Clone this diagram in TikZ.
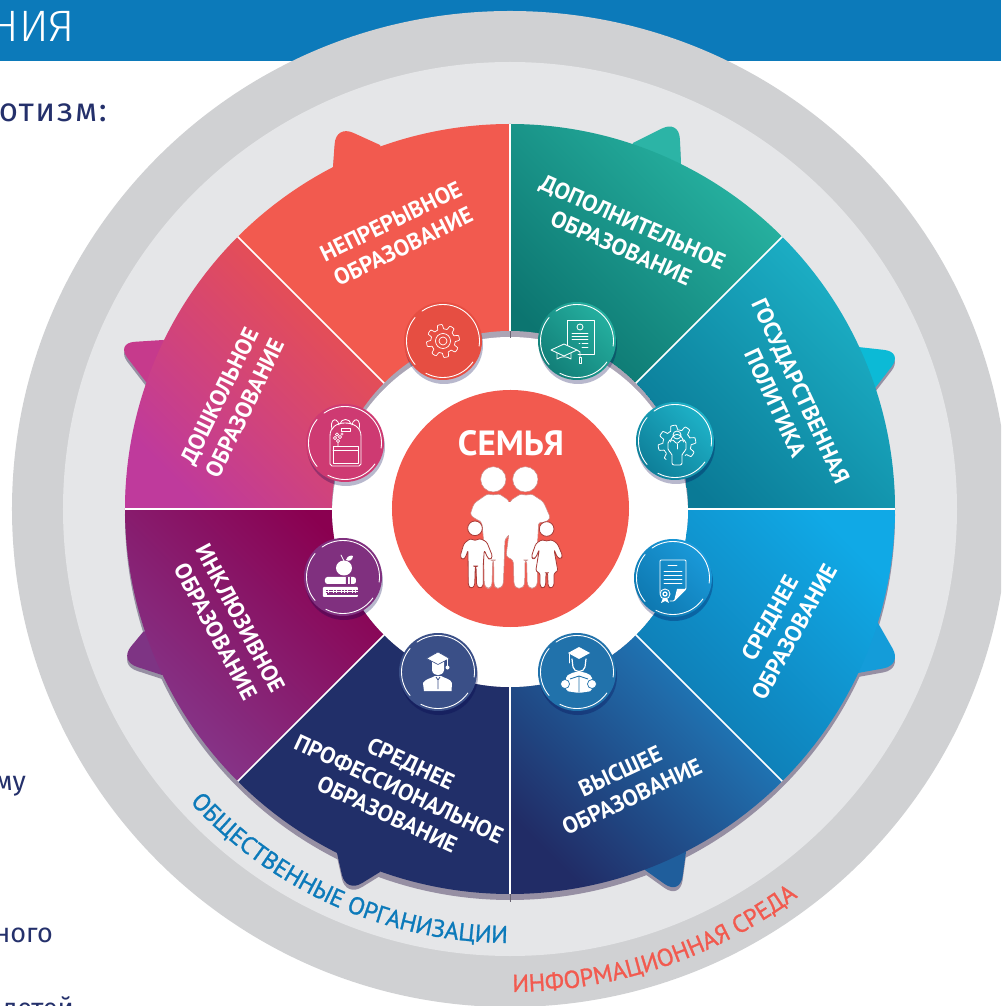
\documentclass[tikz,border=0pt]{standalone}
\usepackage{fontspec}
\usetikzlibrary{decorations.text,calc}
\newfontfamily\ptf{PT Sans}
\newfontfamily\ptm[FakeBold=1.1]{PT Sans}
\newfontfamily\firaf{Fira Sans Light}
\newfontfamily\firar{Fira Sans}
\newfontfamily\firas[LetterSpace=5]{Fira Sans}
\definecolor{coral}{HTML}{F25A4F}
\definecolor{navy}{HTML}{212F69}
\definecolor{bar}{HTML}{0C7ABA}
\definecolor{ringd}{HTML}{D0D1D3}
\definecolor{ringl}{HTML}{E5E6E8}
\definecolor{rimsh}{HTML}{968FA3}
\definecolor{inktext}{HTML}{24306B}
\definecolor{kidedge}{HTML}{A83A36}
\definecolor{cgear}{HTML}{E64E42}
\definecolor{cdip}{HTML}{1B9A8D}
\definecolor{cstu}{HTML}{2172AB}
\definecolor{cgrad}{HTML}{3A4F87}
\definecolor{cbook}{HTML}{80307F}
\definecolor{cbag}{HTML}{CE3A72}
\definecolor{cdoc}{HTML}{1689C4}
\definecolor{dipa}{HTML}{25B0A0}
\definecolor{dipb}{HTML}{127F78}
\definecolor{gova}{HTML}{1EB2C8}
\definecolor{govb}{HTML}{0E7F99}
\definecolor{doca}{HTML}{1A9ADA}
\definecolor{docb}{HTML}{0E78B0}
\definecolor{lobb}{HTML}{2CB4A6}
\definecolor{lobc}{HTML}{0CBAD6}
\definecolor{lobd}{HTML}{149CD9}
\definecolor{lobe5}{HTML}{1F5E9C}
\definecolor{lobg}{HTML}{C63A8C}
\definecolor{lobh}{HTML}{7E3484}
\definecolor{segaa}{HTML}{28B5A3}
\definecolor{segab}{HTML}{0C7570}
\definecolor{segba}{HTML}{1DB2C8}
\definecolor{segbb}{HTML}{0A7A96}
\definecolor{segca}{HTML}{10A9E6}
\definecolor{segcb}{HTML}{0F78AF}
\definecolor{segda}{HTML}{1F82C2}
\definecolor{segdb}{HTML}{212C66}
\definecolor{segea}{HTML}{8A0050}
\definecolor{segeb}{HTML}{85388C}
\definecolor{segfa}{HTML}{EC5248}
\definecolor{segfb}{HTML}{BF3A9C}
\newcommand\seg[3]{\shade[#3] (#1:177) -- (#1:385) arc[start angle=#1,end angle=#2,radius=385] -- (#2:177) arc[start angle=#2,end angle=#1,radius=177] -- cycle;}
\newcommand\lobeshape[3]{(#1) -- ($(#2)!19pt!(#1)$) .. controls ($(#2)!8pt!(#1)$) and ($(#2)!8pt!(#3)$) .. ($(#2)!19pt!(#3)$) -- (#3) -- (510,509) -- cycle}
\newcommand\lobe[4]{%
  \fill[rimsh,yshift=-4pt] \lobeshape{#1}{#2}{#3};
  \fill[#4] \lobeshape{#1}{#2}{#3};}
\newcommand\badge[4]{%
  \fill[black!70!blue,opacity=.28] (#1+1,#2+4) circle (39);
  \shade[top color=#3,bottom color=#4,shading angle=-45] (#1,#2) circle (39);
  \begin{scope}[shift={(#1,#2)},y=1pt]
  \draw[white,line width=.9pt,line cap=round]
     (125:36.5) arc[start angle=125,end angle=-8,radius=36.5]
     (-35:36.5) arc[start angle=-35,end angle=-118,radius=36.5]
     (-140:36.5) arc[start angle=-140,end angle=-220,radius=36.5];
  \end{scope}}
\tikzset{
  ic/.style={draw=white,line width=.85pt,line join=round,line cap=round},
  lab/.style={text=white,font=\ptf\bfseries\fontsize{23}{28}\selectfont,align=center,inner sep=0pt},
  kid/.style={fill=white,draw=kidedge,line width=.8pt,rounded corners=2.5pt,line join=round},
  adult/.style={fill=white,draw=kidedge!60,line width=.5pt,rounded corners=3pt,line join=round},
  side/.style={text=inktext,inner sep=0pt,font=\firar\fontsize{27}{27}\selectfont}
}
\begin{document}
\begin{tikzpicture}[x=1pt,y=1pt]
\useasboundingbox (-510,-497) rectangle (491,509);
\clip (-510,-497) rectangle (491,509);
\fill[white] (-510,-497) rectangle (491,509);
% header and page text
\begin{scope}[shift={(-510,509)},y=-1pt]
  \fill[bar] (0,0) rectangle (1001,61);
  \node[anchor=base east,text=white,inner sep=0pt,font=\firaf\fontsize{44}{44}\selectfont] (head) at (75,42) {НИЯ};
  \node[side,anchor=base east,font=\firas\fontsize{33}{33}\selectfont] (t1) at (107,122) {отизм:};
  \node[side,anchor=base east] (t2) at (26,790) {му};
  \node[side,anchor=base east] (t3) at (53,942) {ного};
  \node[side,anchor=base east] (t4) at (74,1017) {детей};
\end{scope}
% rings
\fill[ringd] (0,0) circle (498);
\fill[ringl] (0,0) circle (447);
% wheel shadow
\fill[rimsh] (0,-6) circle (385);
\draw[rimsh!70!black,line width=1pt] (0,-385) -- (0,-393);
% lobes
\begin{scope}[shift={(-510,509)},y=-1pt]
  \lobe{333,167}{336,125}{380,145}{coral}
  \lobe{633,143}{679,120}{681,163}{lobb}
  \lobe{858,347}{903,352}{872,392}{lobc}
  \lobe{878,623}{902,665}{858,673}{lobd}
  \lobe{686,852}{680,895}{645,870}{lobe5}
  \lobe{337,853}{346,893}{380,872}{navy}
  \lobe{146,382}{116,343}{163,340}{lobg}
  \lobe{143,632}{119,661}{162,675}{lobh}
\end{scope}
% wedges
\seg{90}{135}{top color=coral,bottom color=coral}
\seg{225}{270}{top color=navy,bottom color=navy}
\seg{45}{90}{top color=segaa,bottom color=segab,shading angle=-45}
\seg{0}{45}{top color=segba,bottom color=segbb,shading angle=-45}
\seg{-45}{0}{top color=segca,bottom color=segcb,shading angle=-45}
\seg{-90}{-45}{top color=segda,bottom color=segdb,shading angle=-45}
\seg{180}{225}{top color=segea,bottom color=segeb,shading angle=-45}
\seg{135}{180}{top color=segfa,bottom color=segfb,shading angle=-45}
\foreach \a in {0,45,135,180,225,315} \draw[white,line width=1.6pt] (\a:177) -- (\a:385);
\foreach \a in {90,270} \draw[white,line width=2.6pt] (\a:177) -- (\a:385);
% hole
\begin{scope}
  \clip (0,0) circle (178);
  \fill[rimsh!80] (0,0) circle (178);
  \fill[white] (0,-6) circle (178);
  \draw[rimsh!70!black,line width=1pt] (0,178) -- (0,171);
\end{scope}
% centre
\fill[coral] (0.5,0.5) circle (118.5);
\begin{scope}[shift={(-510,509)},y=-1pt]
  \node[font=\ptf\bfseries\fontsize{35}{35}\selectfont,text=white,inner sep=0pt] (fam) at (511,443) {СЕМЬЯ};
  % labels
  \node[lab,rotate=26] (l1) at (397,234) {НЕПРЕРЫВНОЕ\\ОБРАЗОВАНИЕ};
  \node[lab,rotate=-24] (l2) at (627,235) {ДОПОЛНИТЕЛЬНОЕ\\ОБРАЗОВАНИЕ};
  \node[lab,rotate=-65] (l3) at (788,397) {ГОСУДАРСТВЕННАЯ\\ПОЛИТИКА};
  \node[lab,rotate=61] (l4) at (782,625) {СРЕДНЕЕ\\ОБРАЗОВАНИЕ};
  \node[lab,rotate=25] (l5) at (626,784) {ВЫСШЕЕ\\ОБРАЗОВАНИЕ};
  \node[lab,rotate=-25] (l6) at (399,789) {СРЕДНЕЕ\\ПРОФЕССИОНАЛЬНОЕ\\ОБРАЗОВАНИЕ};
  \node[lab,rotate=-62] (l7) at (228,625) {ИНКЛЮЗИВНОЕ\\ОБРАЗОВАНИЕ};
  \node[lab,rotate=64] (l8) at (232,402) {ДОШКОЛЬНОЕ\\ОБРАЗОВАНИЕ};
  % family, in 3x crop coordinates
  \begin{scope}[shift={(450,460)},x=.3333pt,y=-.3333pt]
    \fill[white,draw=kidedge!60,line width=.5pt] (130,58) circle (38);
    \fill[white,draw=kidedge!60,line width=.5pt] (226,58) circle (38);
    \path[adult] (115,100) -- (130,107) -- (145,100) -- (178,122) -- (178,228) -- (165,235) -- (160,375) -- (150,385) -- (137,385) -- (132,375) -- (131,300) -- (128,300) -- (126,375) -- (120,385) -- (110,385) -- (103,375) -- (100,230) -- (95,185) -- (82,180) -- (60,165) -- (72,130) -- cycle;
    \path[adult] (180,122) -- (215,100) -- (228,108) -- (242,100) -- (280,125) -- (302,175) -- (280,190) -- (266,185) -- (262,260) -- (268,295) -- (262,300) -- (262,375) -- (252,385) -- (240,385) -- (232,375) -- (230,300) -- (225,300) -- (224,375) -- (215,385) -- (200,385) -- (192,375) -- (190,300) -- (168,290) -- (176,228) -- cycle;
    \fill[white] (170,125) rectangle (190,225);
    \path[kid] (62,235) -- (75,243) -- (88,235) -- (110,245) -- (128,290) -- (120,300) -- (112,292) -- (103,270) -- (100,310) -- (100,378) -- (90,386) -- (80,378) -- (78,318) -- (76,318) -- (74,378) -- (64,386) -- (55,378) -- (54,270) -- (47,292) -- (38,300) -- (30,290) -- (42,250) -- cycle;
    \path[kid] (278,238) -- (290,245) -- (302,238) -- (322,250) -- (338,288) -- (332,298) -- (322,292) -- (312,268) -- (324,335) -- (312,338) -- (312,378) -- (302,386) -- (294,378) -- (293,338) -- (288,338) -- (287,378) -- (278,386) -- (270,378) -- (270,338) -- (257,335) -- (268,268) -- (258,292) -- (250,298) -- (244,290) -- (258,250) -- cycle;
    \fill[white,draw=kidedge,line width=.8pt] (75,205) circle (22);
    \fill[white,draw=kidedge,line width=.8pt] (290,207) circle (22);
  \end{scope}
  % gear
  \badge{443}{341}{cgear}{cgear}
  \begin{scope}[shift={(443,341)},y=1pt]
    \draw[ic,line width=.7pt] plot[samples=145,domain=0:360] ({(14.3+2.2*max(-1,min(1,2.5*sin(8*\x))))*cos(\x)},{(14.3+2.2*max(-1,min(1,2.5*sin(8*\x))))*sin(\x)}) -- cycle;
    \draw[ic,line width=.7pt] (0,0) circle (7.5) (0,0) circle (4);
  \end{scope}
  % diploma with cap
  \badge{577}{341}{dipa}{dipb}
  \begin{scope}[shift={(577,341)},y=1pt]
    \draw[ic] (-10,-6) -- (-10,21) -- (17,21) -- (17,-13) -- (1,-13);
    \draw[ic] (3,14) circle (3);
    \foreach \yy in {8,5,2} \draw[ic] (-5,\yy) -- (11,\yy);
    \draw[ic] (2,-2) -- (3,-2) (5,-2) -- (11,-2) (5,-6) -- (11,-6);
    \draw[ic,fill=cdip] (-26,-9) -- (-13,-3) -- (0,-9) -- (-13,-15) -- cycle;
    \draw[ic] (-20,-12) -- (-20,-18) .. controls (-15,-15) and (-11,-15) .. (-6,-18) -- (-6,-12);
    \draw[ic] (0,-9) -- (3,-11) -- (3,-16);
    \draw[ic] (2,-16) rectangle (4,-22);
  \end{scope}
  % government
  \badge{675}{441}{gova}{govb}
  \begin{scope}[shift={(675,441)},y=1pt]
    \draw[ic,line width=.8pt] plot[samples=145,domain=-55:235] ({2+(16.5+2.4*max(-1,min(1,2.5*sin(8*\x))))*cos(\x)},{-3+(16.5+2.4*max(-1,min(1,2.5*sin(8*\x))))*sin(\x)});
    \draw[ic] (2,6) circle (4);
    \draw[ic] (-4.5,-1) .. controls (-3,9) and (7,9) .. (8.5,-1);
    \draw[ic,rounded corners=2pt] (-7,0) -- (-3,2) -- (2,-3) -- (7,2) -- (11,0) -- (11,-10) -- (7,-12) -- (7,-24) -- (-3,-24) -- (-3,-12) -- (-7,-10) -- cycle;
    \draw[ic] (2,-3) -- (2,-8);
  \end{scope}
  % document with seal
  \badge{673}{578}{doca}{docb}
  \begin{scope}[shift={(673,578)},y=1pt]
    \draw[ic,rounded corners=1pt] (-13,-15) -- (-13,18) -- (13,18) -- (13,-11) -- (1,-23) -- (-3,-23);
    \fill[white] (13,-11) -- (4,-11) -- (1,-23) -- cycle;
    \draw[ic] (-5,12.5) -- (4,12.5);
    \foreach \yy in {7,3,-1,-5} \draw[ic] (-9,\yy) -- (9,\yy);
    \draw[ic,fill=cdoc] (-8,-16) circle (5);
    \draw[ic,line width=1.2pt] (-8,-16) circle (2);
    \fill[white] (-12,-25) -- (-10,-20) -- (-6,-20) -- (-4,-25) -- (-8,-23) -- cycle;
  \end{scope}
  % student reading
  \badge{577}{672}{cstu}{cstu}
  \begin{scope}[shift={(577,672)},y=1pt]
    \fill[white] (-9,19) -- (2,25) -- (13,19) -- (2,13) -- cycle;
    \draw[ic] (-8,18) -- (-8,9);
    \draw[ic,line width=1.2pt] (-5,13) -- (-4,5) .. controls (-3,-1) and (7,-1) .. (8,5) -- (9,13);
    \fill[white,rounded corners=2pt] (-11,-19) -- (-11,-4) -- (-3,0) -- (7,0) -- (15,-4) -- (15,-19) -- (2,-21) -- cycle;
    \draw[cstu,line width=.8pt] (2,-4) -- (2,-20) (-7,-7) -- (2,-4) -- (11,-7);
    \fill[white,draw=cstu,line width=.7pt] (-12,-12) circle (4.5);
    \fill[white,draw=cstu,line width=.7pt] (15,-12) circle (4.5);
  \end{scope}
  % graduate
  \badge{438}{672}{cgrad}{cgrad}
  \begin{scope}[shift={(438,672)},y=1pt]
    \fill[white] (-6,10) -- (-6,2) .. controls (-5,-5) and (5,-5) .. (6,2) -- (6,10) -- cycle;
    \fill[white,draw=cgrad,line width=.6pt] (-11.5,13.5) -- (0,20) -- (11.5,13.5) -- (0,7.5) -- cycle;
    \draw[ic] (9.5,13) -- (9.5,6);
    \fill[white] (9.5,4.5) circle (2);
    \fill[white] (-14,-19) -- (13.5,-19) -- (14,-11) .. controls (13,-7) and (6,-6) .. (3,-4) -- (-3,-4) .. controls (-6,-6) and (-13,-7) .. (-15,-11) -- cycle;
    \draw[cgrad,line width=.8pt] (-2,-5) -- (0,-8) -- (2,-5) (0,-8) -- (0,-17);
  \end{scope}
  % books with apple
  \badge{343}{577}{cbook}{cbook}
  \begin{scope}[shift={(343,577)},y=1pt]
    \fill[white] (1,9) ellipse (8 and 7.5);
    \fill[white] (3,17) .. controls (4,21) and (8,22) .. (10,21) .. controls (10,17) and (6,15) .. cycle;
    \draw[ic] (-2,22) -- (1,16);
    \fill[white,rounded corners=2.5pt] (13,0) -- (-18,0) -- (-18,-7) -- (13,-7) -- cycle;
    \fill[cbook] (3,0) rectangle (5,-7) (7,0) rectangle (8,-7);
    \fill[white,rounded corners=1pt] (15,-10) -- (-20,-10) -- (-20,-20) -- (15,-20) -- (15,-18.5) -- (15,-11.5) -- cycle;
    \draw[cbook,line width=.6pt,dash pattern=on 2pt off .7pt] (-17,-13) -- (15,-13) (-17,-15) -- (15,-15);
    \fill[cbook] (-16,-16.5) rectangle (15.2,-18.4);
  \end{scope}
  % backpack
  \badge{345}{443}{cbag}{cbag}
  \begin{scope}[shift={(345,443)},y=1pt]
    \draw[ic] (-15,-21) -- (-15,7) .. controls (-15,16) and (-8,20) .. (0,20) .. controls (8,20) and (16,16) .. (16,7) -- (16,-21) -- (14,-23) -- (-13,-23) -- cycle;
    \draw[ic] (-13,14) .. controls (-15,22) and (-11,24) .. (-9,23) .. controls (-7,22) and (-7,21) .. (-6,18);
    \draw[ic] (14,14) .. controls (16,22) and (12,24) .. (10,23) .. controls (8,22) and (8,21) .. (7,18);
    \draw[ic] (-5,19) .. controls (-4,25) and (5,25) .. (6,19);
    \draw[ic] (-4,15) rectangle (5,12);
    \draw[ic] (-12,-3) rectangle (13,-20);
    \draw[ic] (-12,-7) -- (13,-7);
    \draw[ic,line width=.6pt] (-7,2) circle (1.6) (-10,5) circle (1.6) (-5,6) circle (1.6) (-8,8.5) circle (1.6) (-3,9) circle (1.2) (-7,-3) -- (-7,.5);
  \end{scope}
\end{scope}
% ring texts
\path[postaction={decorate},decoration={text along path,text align={left},text={|\ptm\fontsize{24.4}{25}\selectfont\color{bar}|ОБЩЕСТВЕННЫЕ ОРГАНИЗАЦИИ}}]
  (222.5:434) arc[start angle=222.5,end angle=272,radius=434];
\path[postaction={decorate},decoration={text along path,text align={left},text={|\ptm\fontsize{24.5}{25}\selectfont\color{coral}|ИНФОРМАЦИОННАЯ СРЕДА}}]
  (270.3:483) arc[start angle=270.3,end angle=330,radius=483];
\end{tikzpicture}
\end{document}
